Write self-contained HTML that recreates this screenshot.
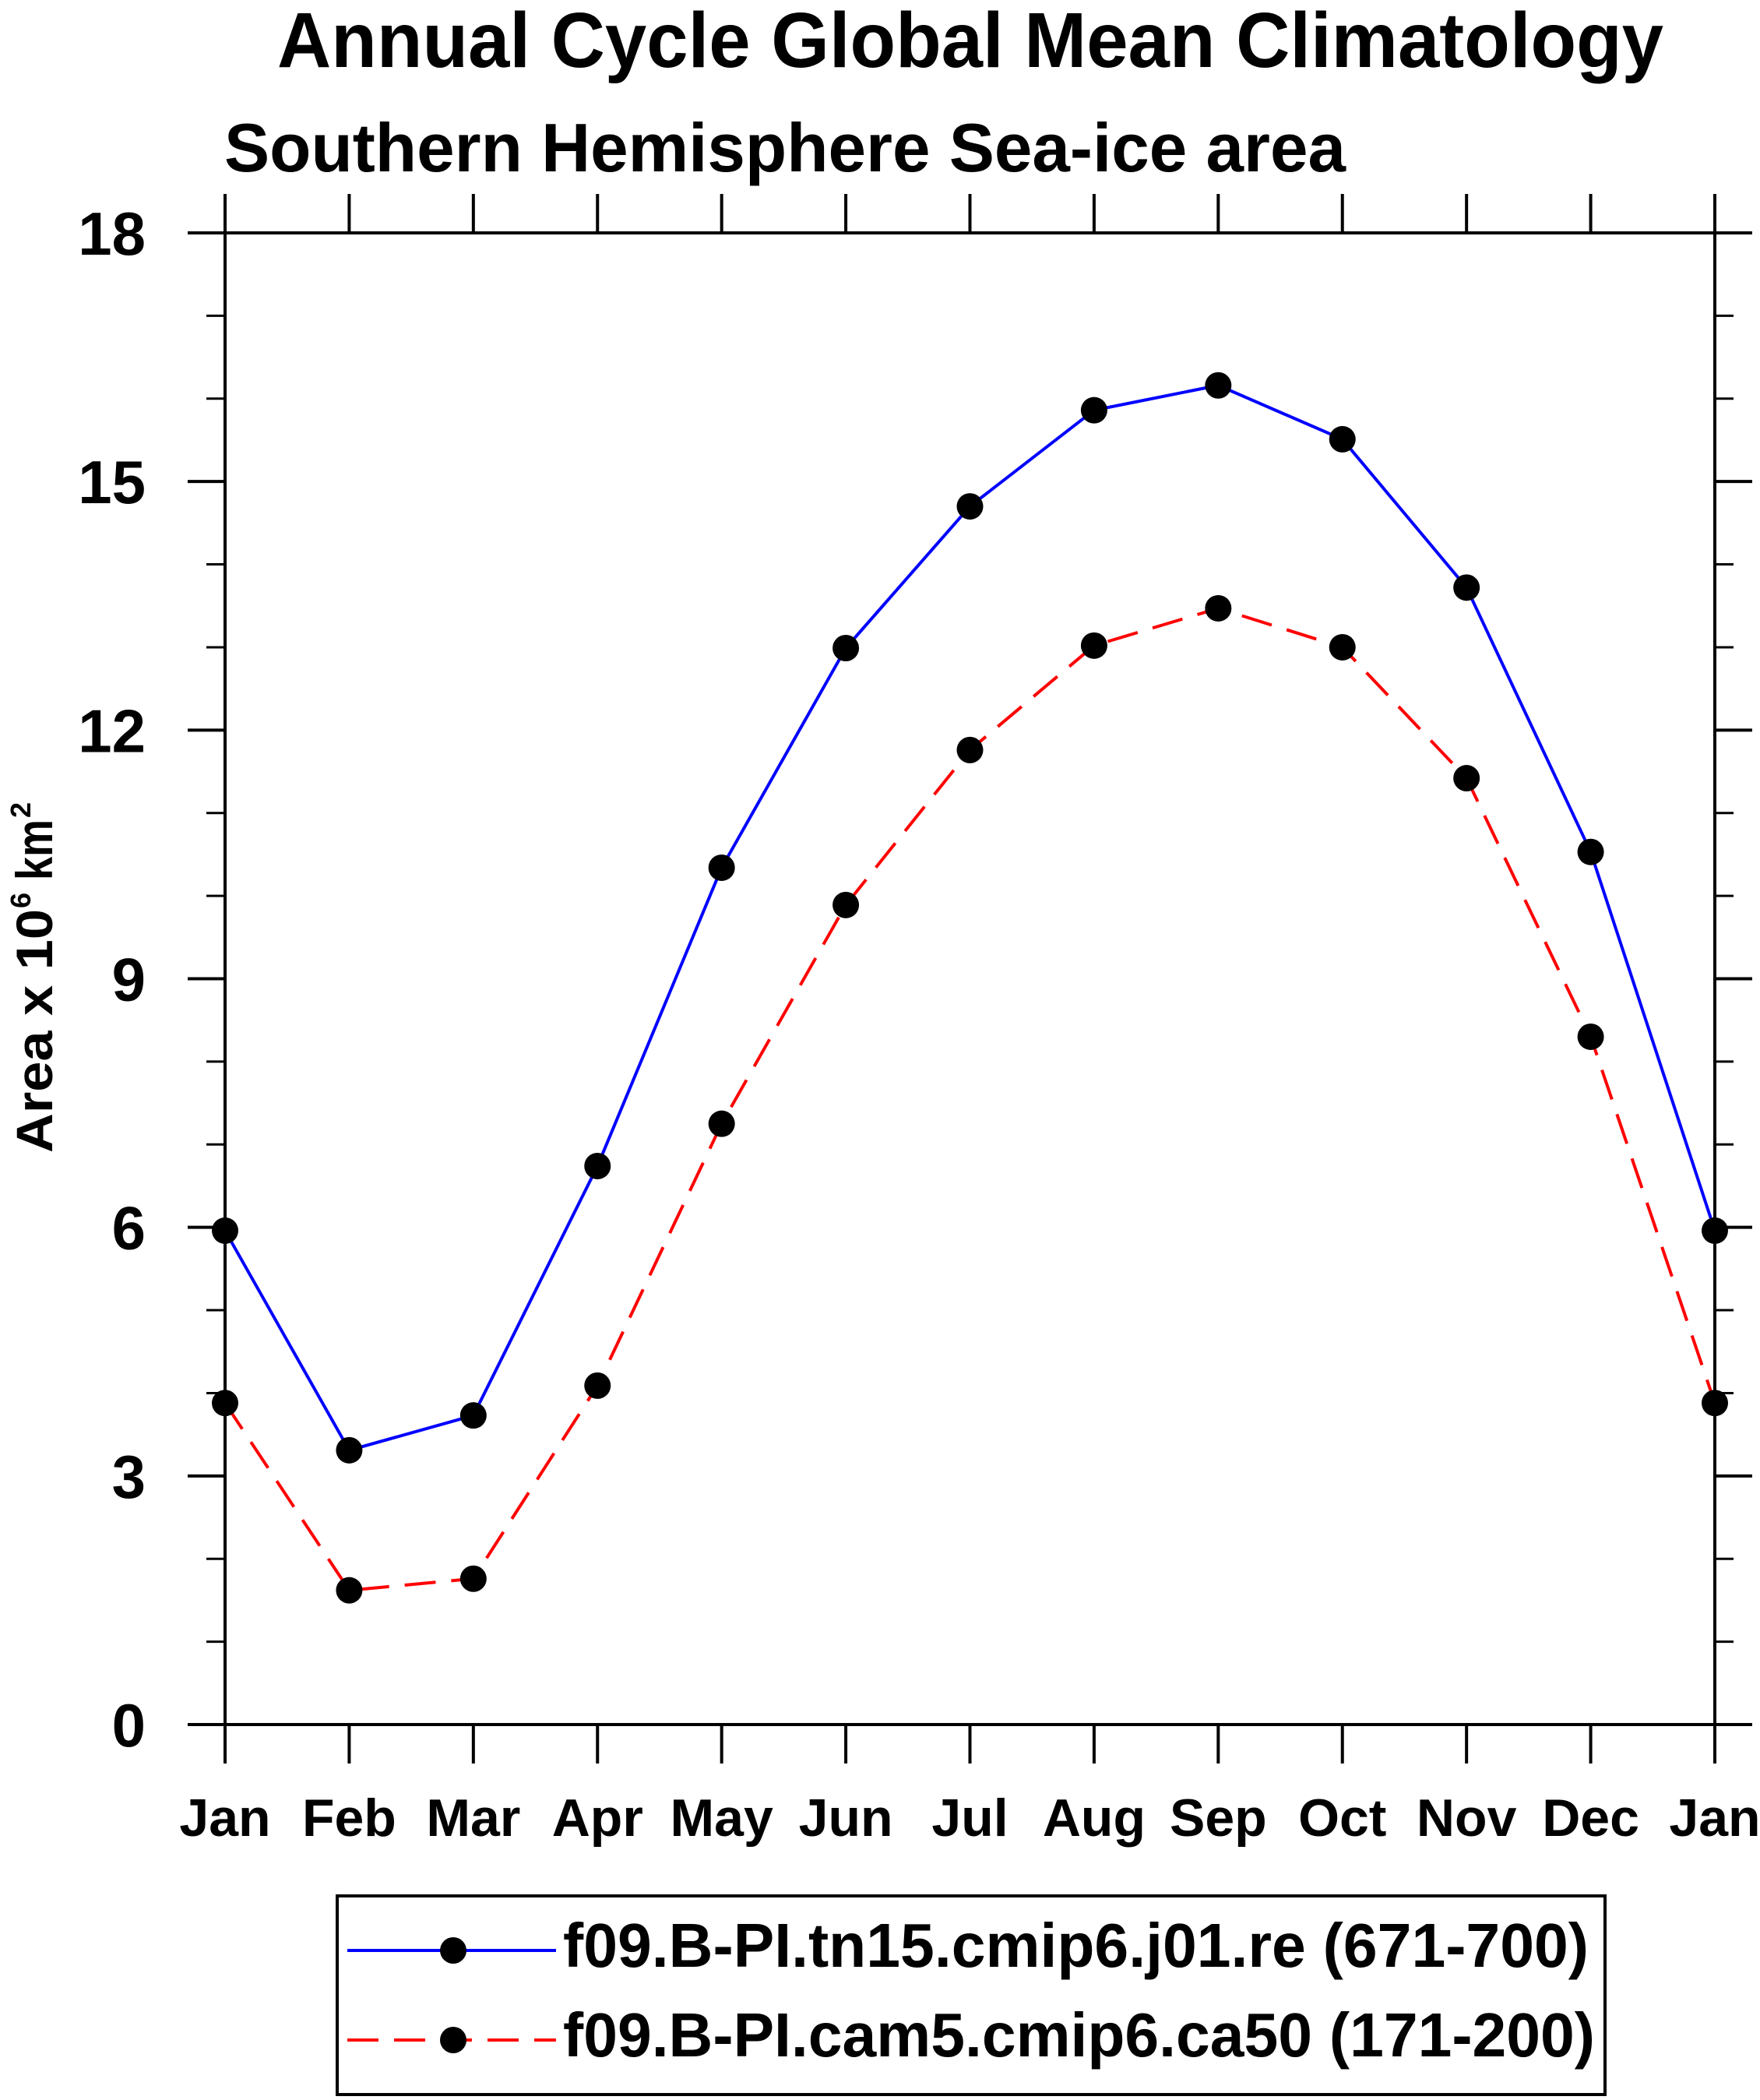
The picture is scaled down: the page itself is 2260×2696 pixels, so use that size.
<!DOCTYPE html>
<html><head><meta charset="utf-8"><style>
html,body{margin:0;padding:0;background:#fff;}
svg{display:block;}
text{font-family:"Liberation Sans",sans-serif;font-weight:bold;fill:#000;}
</style></head><body>
<svg id="chart" width="2260" height="2696" viewBox="0 0 2260 2696" xmlns="http://www.w3.org/2000/svg">
<text x="356" y="86" font-size="100" textLength="1780" lengthAdjust="spacingAndGlyphs">Annual Cycle Global Mean Climatology</text>
<text x="288" y="220" font-size="88" textLength="1440" lengthAdjust="spacingAndGlyphs">Southern Hemisphere Sea-ice area</text>
<g id="axes"></g>
<g id="series"></g>
<g transform="translate(67,1480) rotate(-90)">
<text x="0" y="0" font-size="66" textLength="313" lengthAdjust="spacingAndGlyphs">Area x 10</text>
<text x="314" y="-28" font-size="36">6</text>
<text x="350" y="0" font-size="66" textLength="78" lengthAdjust="spacingAndGlyphs">km</text>
<text x="430" y="-28" font-size="36">2</text>
</g>
<g>
<rect x="433" y="2434" width="1628" height="255" fill="none" stroke="#000" stroke-width="4"/>
<g>
<line x1="446" y1="2504" x2="714" y2="2504" stroke="#0000ff" stroke-width="4"/>
<circle cx="582" cy="2504" r="17" fill="#000"/>
<text x="723" y="2525" font-size="80" textLength="1317" lengthAdjust="spacingAndGlyphs">f09.B-PI.tn15.cmip6.j01.re (671-700)</text>
</g>
<g>
<line x1="446" y1="2619" x2="714" y2="2619" stroke="#ff0000" stroke-width="4" stroke-dasharray="40,20"/>
<circle cx="582" cy="2619" r="17" fill="#000"/>
<text x="723" y="2640" font-size="80" textLength="1325" lengthAdjust="spacingAndGlyphs">f09.B-PI.cam5.cmip6.ca50 (171-200)</text>
</g>
</g>
</svg>
<script>
const months = ["Jan","Feb","Mar","Apr","May","Jun","Jul","Aug","Sep","Oct","Nov","Dec","Jan"];
const blueValues = [5.96,3.31,3.73,6.74,10.34,12.99,14.70,15.86,16.16,15.51,13.72,10.53,5.96];
const redValues = [3.88,1.62,1.76,4.09,7.25,9.89,11.76,13.02,13.47,13.00,11.42,8.30,3.88];
const yTicks = [0,3,6,9,12,15,18];
const yMinor = [1,2,4,5,7,8,10,11,13,14,16,17];

const NS="http://www.w3.org/2000/svg";
const L=289,R=2202,T=299,B=2214,YMAX=18;
function xs(i){return L+(R-L)*i/(months.length-1);}
function ys(v){return B-(B-T)*v/YMAX;}
function mk(tag,attrs,parent){const e=document.createElementNS(NS,tag);for(const k in attrs)e.setAttribute(k,attrs[k]);parent.appendChild(e);return e;}
const axes=document.getElementById('axes');
const series=document.getElementById('series');
const frame=mk('rect',{x:L,y:T,width:R-L,height:B-T,fill:'none',stroke:'#000','stroke-width':4},axes);


months.forEach((m,i)=>{
  const x=xs(i);
  const t1=mk('line',{x1:x,y1:B,x2:x,y2:B+50,stroke:'#000','stroke-width':4},axes);
  
  
  const t2=mk('line',{x1:x,y1:T,x2:x,y2:T-50,stroke:'#000','stroke-width':4},axes);
  
  
  const lb=mk('text',{x:x,y:2357,'font-size':68,'text-anchor':'middle'},axes);
  lb.textContent=m;
  
  
});
yTicks.forEach(v=>{
  const y=ys(v);
  const t1=mk('line',{x1:L-48,y1:y,x2:L,y2:y,stroke:'#000','stroke-width':4},axes);
  
  
  const t2=mk('line',{x1:R,y1:y,x2:R+48,y2:y,stroke:'#000','stroke-width':4},axes);
  
  
  const lb=mk('text',{x:187,y:y+28,'font-size':78,'text-anchor':'end'},axes);
  lb.textContent=String(v);
  
  
});
yMinor.forEach(v=>{
  const y=ys(v);
  const t1=mk('line',{x1:L-24,y1:y,x2:L,y2:y,stroke:'#000','stroke-width':3},axes);
  
  
  const t2=mk('line',{x1:R,y1:y,x2:R+24,y2:y,stroke:'#000','stroke-width':3},axes);
  
  
});
function drawSeries(vals,color,dash,name){
  const pts=vals.map((v,i)=>xs(i)+','+ys(v)).join(' ');
  const attrs={points:pts,fill:'none',stroke:color,'stroke-width':4};
  if(dash)attrs['stroke-dasharray']=dash;
  const pl=mk('polyline',attrs,series);
  
  
  vals.forEach((v,i)=>{
    const c=mk('circle',{cx:xs(i),cy:ys(v),r:17,fill:'#000'},series);
    
    
  });
}
drawSeries(blueValues,'#0000ff',null,'blue-series');
drawSeries(redValues,'#ff0000','40,20','red-series');
</script>
</body></html>
